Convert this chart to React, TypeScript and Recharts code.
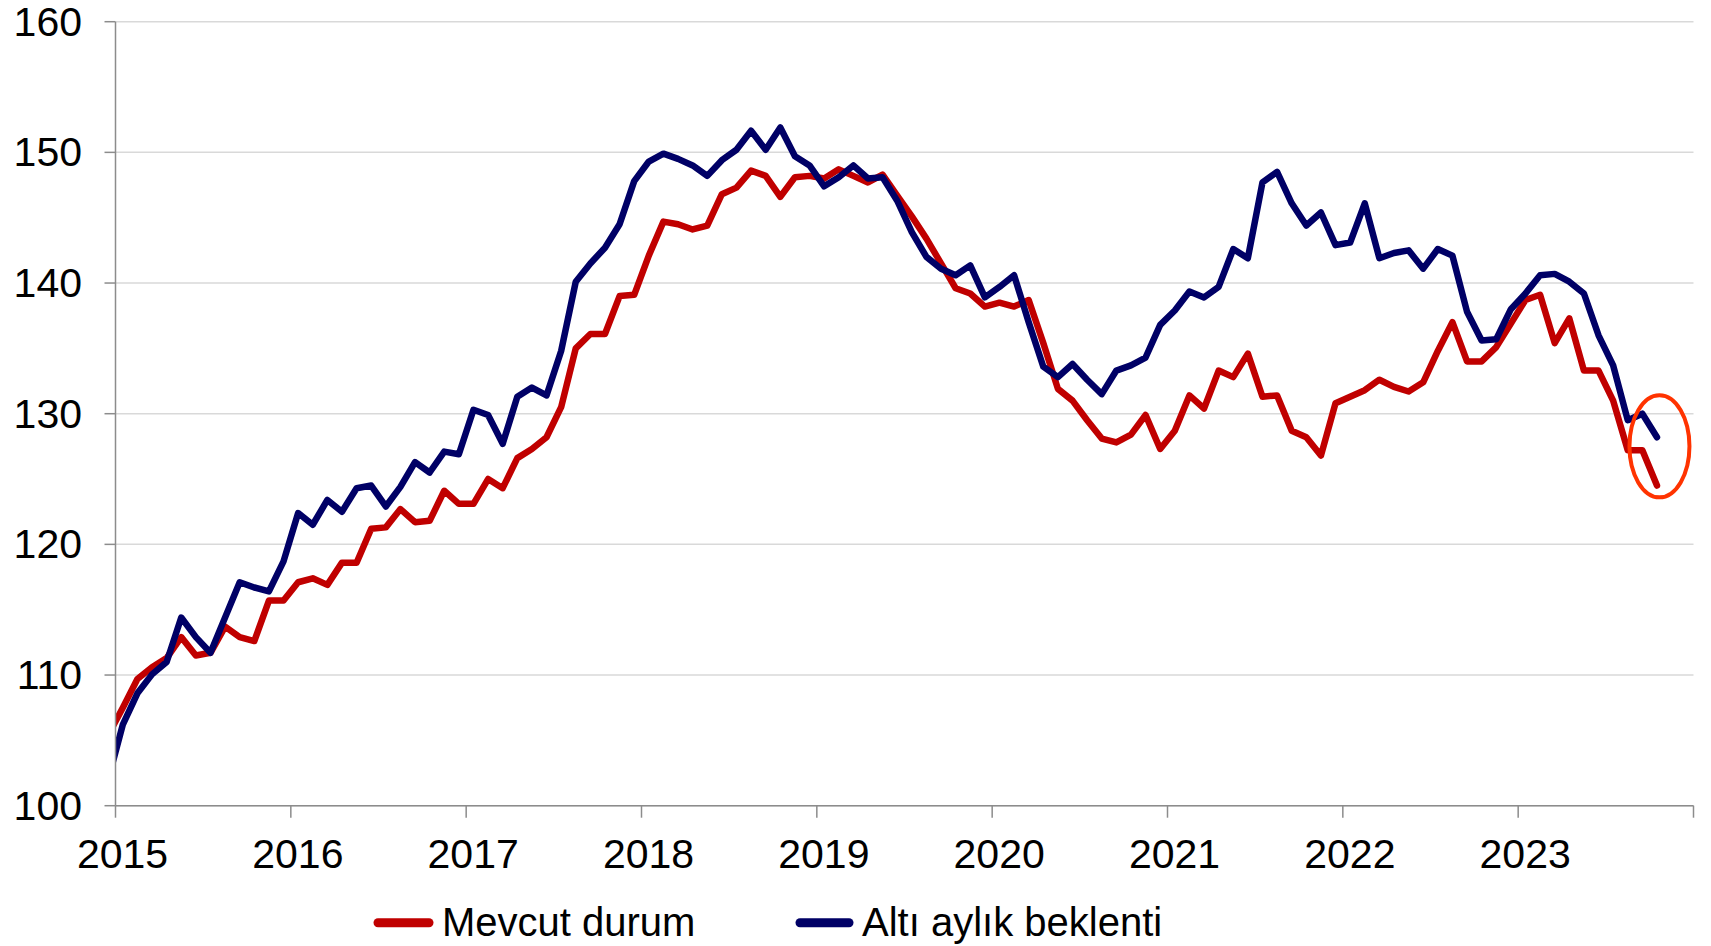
import React from 'react';
import { LineChart, Line, XAxis, YAxis, CartesianGrid, ReferenceDot } from 'recharts';

// Monthly observations, Dec 2014 (clipped at the axis) through Oct 2023
const monthLabels: string[] = (() => {
  const out: string[] = [];
  let y = 2014;
  let m = 12;
  for (let i = 0; i < 107; i++) {
    out.push(`${y}-${String(m).padStart(2, '0')}`);
    m += 1;
    if (m > 12) { m = 1; y += 1; }
  }
  return out;
})();

const mevcutDurum: number[] = [
  105.4,
  107.5, 109.7, 110.6, 111.3, 112.9, 111.5, 111.7, 113.7, 112.9, 112.6, 115.7, 115.7,
  117.1, 117.4, 116.9, 118.6, 118.6, 121.2, 121.3, 122.7, 121.7, 121.8, 124.1, 123.1,
  123.1, 125.0, 124.3, 126.6, 127.3, 128.2, 130.5, 135.0, 136.1, 136.1, 139.0, 139.1,
  142.1, 144.7, 144.5, 144.1, 144.4, 146.8, 147.3, 148.6, 148.2, 146.6, 148.1, 148.2,
  148.0, 148.7, 148.2, 147.7, 148.3, 146.7, 145.1, 143.4, 141.5, 139.6, 139.2, 138.2,
  138.5, 138.2, 138.7, 135.4, 131.9, 131.0, 129.5, 128.1, 127.8, 128.4, 129.9, 127.3,
  128.7, 131.4, 130.4, 133.3, 132.8, 134.6, 131.3, 131.4, 128.7, 128.2, 126.8, 130.8,
  131.3, 131.8, 132.6, 132.05, 131.7, 132.4, 134.8, 137.0, 134.0, 134.0, 135.1, 136.9,
  138.7, 139.1, 135.4, 137.3, 133.3, 133.3, 131.0, 127.2, 127.2, 124.5,
];

const altiAylikBeklenti: number[] = [
  102.0,
  106.2, 108.6, 110.05, 111.0, 114.4, 112.9, 111.7, 114.4, 117.1, 116.7, 116.4, 118.7,
  122.4, 121.5, 123.4, 122.5, 124.3, 124.5, 122.9, 124.4, 126.3, 125.5, 127.1, 126.9,
  130.3, 129.9, 127.7, 131.3, 132.0, 131.4, 134.8, 140.1, 141.5, 142.7, 144.5, 147.8,
  149.3, 149.9, 149.5, 149.0, 148.2, 149.4, 150.2, 151.65, 150.2, 151.9, 149.7, 149.0,
  147.4, 148.1, 149.0, 148.0, 148.1, 146.3, 143.9, 142.0, 141.1, 140.6, 141.35, 138.9,
  139.7, 140.6, 137.0, 133.6, 132.8, 133.8, 132.6, 131.5, 133.3, 133.7, 134.3, 136.8,
  137.9, 139.35, 138.9, 139.7, 142.6, 141.9, 147.7, 148.5, 146.1, 144.4, 145.4, 142.9,
  143.1, 146.1, 141.9, 142.3, 142.5, 141.1, 142.6, 142.1, 137.8, 135.6, 135.7, 138.0,
  139.2, 140.6, 140.7, 140.1, 139.2, 136.0, 133.7, 129.5, 130.0, 128.2,
];

const yearTicks: number[] = [0, 12, 24, 36, 48, 60, 72, 84, 96, 108];
const yearLabels: string[] = ['2015', '2016', '2017', '2018', '2019', '2020', '2021', '2022', '2023', ''];
const valueTicks: number[] = [100, 110, 120, 130, 140, 150, 160];
const seriesNames: string[] = ['Mevcut durum', 'Altı aylık beklenti'];
const seriesColors: string[] = ['#C00000', '#000066'];

// highlighted last observation (Oct 2023)
const highlight = { t: 105.67, v: 127.5 };

const data = monthLabels.map((month, i) => ({
  month,
  t: i - 0.5, // mid-month position, months since Jan 2015
  mevcut: mevcutDurum[i],
  beklenti: altiAylikBeklenti[i],
}));

const FONT = '"Liberation Sans", Arial, Helvetica, sans-serif';

const XTick = (props: any) => {
  const { x, y, payload } = props;
  const idx = yearTicks.indexOf(payload.value);
  const label = idx >= 0 ? yearLabels[idx] : '';
  return (
    <text x={x + 7} y={y + 50} textAnchor="middle" fontFamily={FONT} fontSize={41} fill="#000">
      {label}
    </text>
  );
};

const YTick = (props: any) => {
  const { x, y, payload } = props;
  return (
    <text x={x - 22.5} y={y + 14} textAnchor="end" fontFamily={FONT} fontSize={41} fill="#000">
      {payload.value}
    </text>
  );
};

const EllipseShape = (props: any) => {
  const { cx, cy } = props;
  return <ellipse cx={cx} cy={cy} rx={30} ry={51} fill="none" stroke="#FF3300" strokeWidth={4} />;
};

export default function App() {
  return (
    <div style={{ position: 'absolute', left: 0, top: 0, width: 1711, height: 946, background: '#fff' }}>
      <LineChart
        width={1711}
        height={946}
        data={data}
        margin={{ top: 21.7, right: 17.5, left: 0, bottom: 0 }}
      >
        <CartesianGrid vertical={false} stroke="#D9D9D9" strokeWidth={1.5} />
        <XAxis
          dataKey="t"
          type="number"
          domain={[0, 108]}
          allowDataOverflow
          ticks={yearTicks}
          interval={0}
          height={140.3}
          tickSize={12}
          tickMargin={0}
          axisLine={{ stroke: '#8C8C8C', strokeWidth: 1.5 }}
          tickLine={{ stroke: '#8C8C8C', strokeWidth: 1.5 }}
          tick={<XTick />}
        />
        <YAxis
          type="number"
          domain={[100, 160]}
          ticks={valueTicks}
          interval={0}
          width={115.5}
          tickSize={11}
          tickMargin={0}
          axisLine={{ stroke: '#8C8C8C', strokeWidth: 1.5 }}
          tickLine={{ stroke: '#8C8C8C', strokeWidth: 1.5 }}
          tick={<YTick />}
        />
        <Line
          type="linear"
          dataKey="mevcut"
          name={seriesNames[0]}
          stroke={seriesColors[0]}
          strokeWidth={6.5}
          strokeLinejoin="round"
          strokeLinecap="round"
          dot={false}
          activeDot={false}
          isAnimationActive={false}
        />
        <Line
          type="linear"
          dataKey="beklenti"
          name={seriesNames[1]}
          stroke={seriesColors[1]}
          strokeWidth={6.5}
          strokeLinejoin="round"
          strokeLinecap="round"
          dot={false}
          activeDot={false}
          isAnimationActive={false}
        />
        <ReferenceDot x={highlight.t} y={highlight.v} r={30} shape={<EllipseShape />} />
      </LineChart>
      <svg
        width={1711}
        height={946}
        style={{ position: 'absolute', left: 0, top: 0, pointerEvents: 'none' }}
      >
        <line x1={378} y1={922.7} x2={429} y2={922.7} stroke={seriesColors[0]} strokeWidth={9} strokeLinecap="round" />
        <text x={442} y={935.7} fontFamily={FONT} fontSize={40} fill="#000">{seriesNames[0]}</text>
        <line x1={800} y1={922.7} x2={849} y2={922.7} stroke={seriesColors[1]} strokeWidth={9} strokeLinecap="round" />
        <text x={862} y={935.7} fontFamily={FONT} fontSize={40} fill="#000">{seriesNames[1]}</text>
      </svg>
    </div>
  );
}
